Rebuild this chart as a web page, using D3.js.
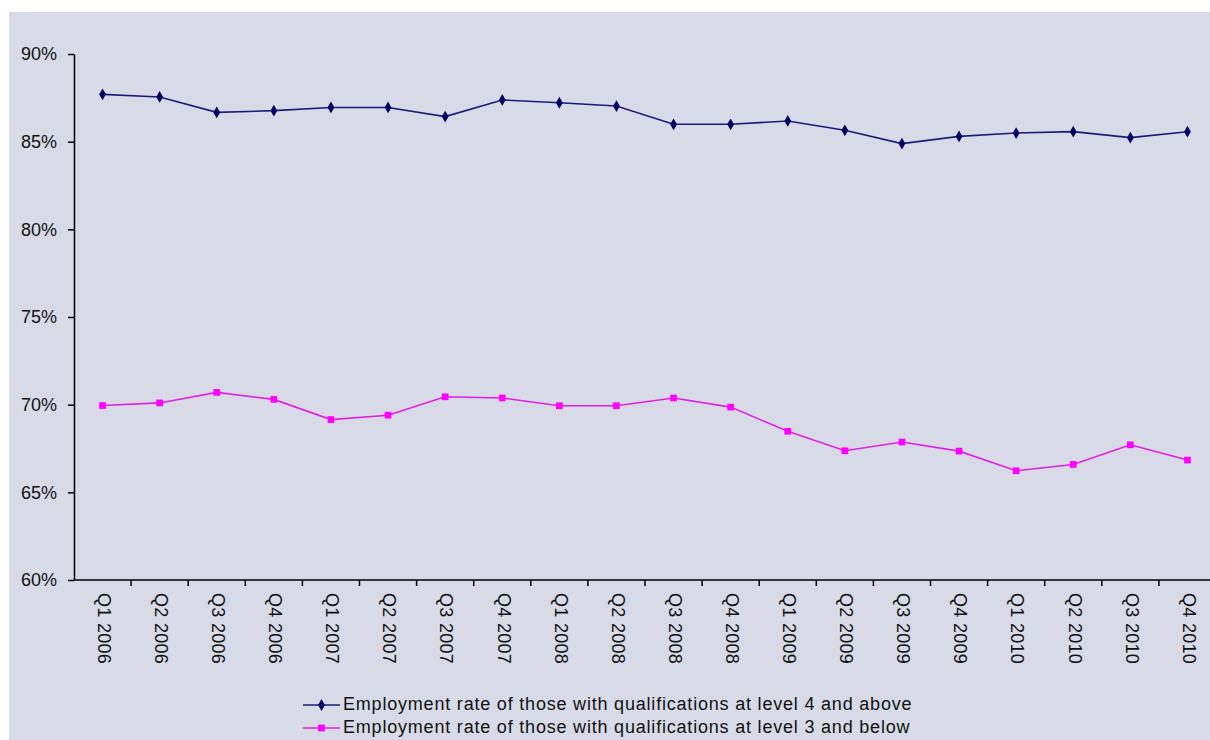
<html>
<head>
<meta charset="utf-8">
<style>
  body { margin: 0; background: #fff; }
  text { font-family: "Liberation Sans", Arial, sans-serif; fill: #111; }
</style>
</head>
<body>
<script src="https://cdn.jsdelivr.net/npm/d3@7"></script>
<script>
var quarters = ["Q1 2006","Q2 2006","Q3 2006","Q4 2006","Q1 2007","Q2 2007","Q3 2007","Q4 2007",
                "Q1 2008","Q2 2008","Q3 2008","Q4 2008","Q1 2009","Q2 2009","Q3 2009","Q4 2009",
                "Q1 2010","Q2 2010","Q3 2010","Q4 2010"];
var level4 = [87.7,87.55,86.67,86.77,86.95,86.95,86.43,87.38,87.22,87.03,
              85.99,85.99,86.18,85.65,84.89,85.3,85.49,85.57,85.23,85.57];
var level3 = [69.95,70.1,70.7,70.3,69.15,69.4,70.45,70.38,69.94,69.94,
              70.38,69.86,68.48,67.37,67.87,67.35,66.23,66.59,67.71,66.84];
var yTicks = [60,65,70,75,80,85,90];
var seriesNames = ["Employment rate of those with qualifications at level 4 and above",
                   "Employment rate of those with qualifications at level 3 and below"];

var width = 1210, height = 740;
var svg = d3.select("body").append("svg")
    .attr("width", width)
    .attr("height", height);

// chart area background
svg.append("rect")
    .attr("x", 9).attr("y", 12)
    .attr("width", width - 9).attr("height", height - 12)
    .attr("fill", "#d8dbe7");

var x = d3.scaleBand().domain(quarters).range([74, 74 + 20 * 57.1]);
var y = d3.scaleLinear().domain([60, 90]).range([580, 54]);

// y axis
var yAxis = svg.append("g")
    .attr("transform", "translate(74,0)")
    .call(d3.axisLeft(y).tickValues(yTicks).tickFormat(d => d + "%").tickSize(6).tickSizeOuter(0).tickPadding(11));
yAxis.select(".domain").attr("stroke", "#000").attr("stroke-width", 1.5);
yAxis.selectAll(".tick line").attr("stroke", "#000").attr("stroke-width", 1.5);
yAxis.selectAll(".tick text").style("font-size", "18px").attr("fill", "#222")
    .style("font-family", "'Liberation Sans', Arial, sans-serif");

// x axis line and ticks at category boundaries
svg.append("line")
    .attr("x1", 74).attr("x2", width)
    .attr("y1", y(60)).attr("y2", y(60))
    .attr("stroke", "#000").attr("stroke-width", 1.5);
svg.selectAll(".xtick")
    .data(quarters.slice(1).concat(["end"]))
    .join("line")
    .attr("class", "xtick")
    .attr("x1", (d, i) => x.range()[0] + (i + 1) * x.step())
    .attr("x2", (d, i) => x.range()[0] + (i + 1) * x.step())
    .attr("y1", y(60)).attr("y2", y(60) + 6)
    .attr("stroke", "#000").attr("stroke-width", 1.5);

svg.selectAll(".xlab")
    .data(quarters)
    .join("text")
    .attr("class", "xlab")
    .attr("transform", d => "translate(" + (x(d) + x.bandwidth() / 2) + "," + (y(60) + 13) + ") rotate(90)")
    .attr("dominant-baseline", "middle")
    .style("font-size", "18px")
    .style("letter-spacing", "0.3px")
    .attr("fill", "#222")
    .text(d => d);

// lines
var line = d3.line()
    .x((d, i) => x(quarters[i]) + x.bandwidth() / 2)
    .y(d => y(d));

svg.append("path").datum(level4)
    .attr("fill", "none").attr("stroke", "#1c1c78").attr("stroke-width", 1.6)
    .attr("d", line);
svg.append("path").datum(level3)
    .attr("fill", "none").attr("stroke", "#e020e0").attr("stroke-width", 1.6)
    .attr("d", line);

var diamond = d3.symbol().type(d3.symbolDiamond).size(40);
var square = d3.symbol().type(d3.symbolSquare).size(45);

svg.selectAll(".m4").data(level4).join("path")
    .attr("class", "m4")
    .attr("d", diamond)
    .attr("transform", (d, i) => "translate(" + (x(quarters[i]) + x.bandwidth() / 2) + "," + y(d) + ")")
    .attr("fill", "#000060");
svg.selectAll(".m3").data(level3).join("path")
    .attr("class", "m3")
    .attr("d", square)
    .attr("transform", (d, i) => "translate(" + (x(quarters[i]) + x.bandwidth() / 2) + "," + y(d) + ")")
    .attr("fill", "#ff00ff");

// legend
var legend = svg.append("g");
var colors = ["#1c1c78", "#e020e0"];
var markFill = ["#000060", "#ff00ff"];
seriesNames.forEach(function(name, i) {
    var ly = 705 + i * 23;
    legend.append("line")
        .attr("x1", 303).attr("x2", 340).attr("y1", ly).attr("y2", ly)
        .attr("stroke", colors[i]).attr("stroke-width", 1.6);
    legend.append("path")
        .attr("d", i == 0 ? diamond : square)
        .attr("transform", "translate(321.5," + ly + ")")
        .attr("fill", markFill[i]);
    legend.append("text")
        .attr("x", 343).attr("y", ly)
        .attr("dominant-baseline", "middle")
        .style("font-size", "18px")
        .style("letter-spacing", "0.8px")
        .attr("fill", "#222")
        .text(name);
});
</script>
</body>
</html>
